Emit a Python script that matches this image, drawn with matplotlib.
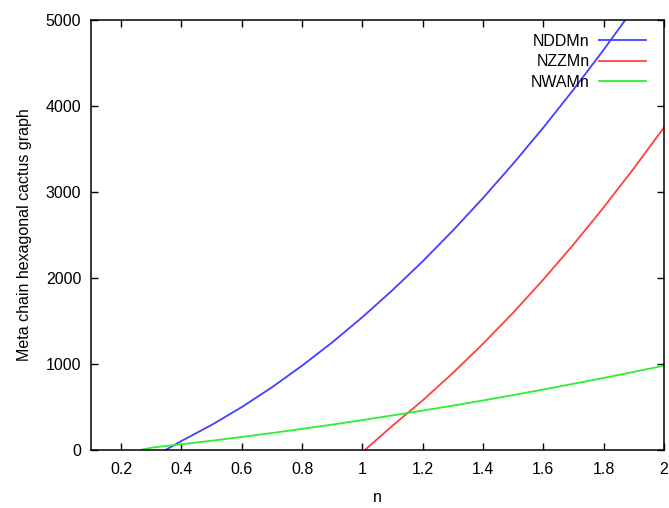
import numpy as np
import matplotlib.pyplot as plt

# valeurs
n_dd = [0.35, 0.4, 0.5, 0.6, 0.7, 0.8, 0.9, 1.0, 1.1, 1.2, 1.3, 1.4, 1.5, 1.6, 1.7, 1.8, 1.9]
nddm = [0, 99, 286, 494, 724, 976, 1247, 1541, 1856, 2191, 2549, 2928, 3328, 3748, 4190, 4654, 5138]

n_zz = [1.01, 1.1, 1.2, 1.3, 1.4, 1.5, 1.6, 1.7, 1.8, 1.9, 2.0]
nzzm = [0, 278, 572, 891, 1231, 1593, 1979, 2387, 2819, 3273, 3749]

n_wa = [0.27, 0.3, 0.4, 0.5, 0.6, 0.7, 0.8, 0.9, 1.0, 1.1, 1.2, 1.3, 1.4, 1.5, 1.6, 1.7, 1.8, 1.9, 2.0]
nwam = [0, 21, 61, 102, 146, 192, 240, 290, 343, 397, 453, 511, 571, 634, 698, 765, 833, 904, 976]

xticks = [0.2, 0.4, 0.6, 0.8, 1.0, 1.2, 1.4, 1.6, 1.8, 2.0]
xlabels = ["0.2", "0.4", "0.6", "0.8", "1", "1.2", "1.4", "1.6", "1.8", "2"]
yticks = [0, 1000, 2000, 3000, 4000, 5000]

plt.rcParams['font.family'] = ['Liberation Sans', 'DejaVu Sans']
plt.rcParams['font.size'] = 11.5

fig = plt.figure(figsize=(6.69, 5.08), dpi=100)
ax = fig.add_axes([91/669, 58.5/508, 573/669, 429.5/508])

ax.plot(n_dd, nddm, color="#4040ff", lw=1.3, label="NDDMn")
ax.plot(n_zz, nzzm, color="#ff4040", lw=1.3, label="NZZMn")
ax.plot(n_wa, nwam, color="#30ee30", lw=1.3, label="NWAMn")

ax.set_xlim(0.1, 2)
ax.set_ylim(0, 5000)
ax.set_xticks(xticks)
ax.set_xticklabels(xlabels)
ax.set_yticks(yticks)
ax.tick_params(direction="in", length=5, width=1, top=True, right=True, colors="black")
ax.tick_params(axis="x", pad=9)
ax.tick_params(axis="y", pad=7)
for s in ax.spines.values():
    s.set_linewidth(1.1)

ax.set_xlabel("n", labelpad=9)
ax.set_ylabel("Meta chain hexagonal cactus graph", labelpad=10)

ax.legend(loc="upper right", bbox_to_anchor=(1 - 4/573, 1 + 0.5/429.5), frameon=False,
          markerfirst=False, handlelength=2.9, handletextpad=0.6, labelspacing=0.35,
          borderaxespad=0.5, borderpad=0.4)

fig.savefig("out.png", dpi=100)
